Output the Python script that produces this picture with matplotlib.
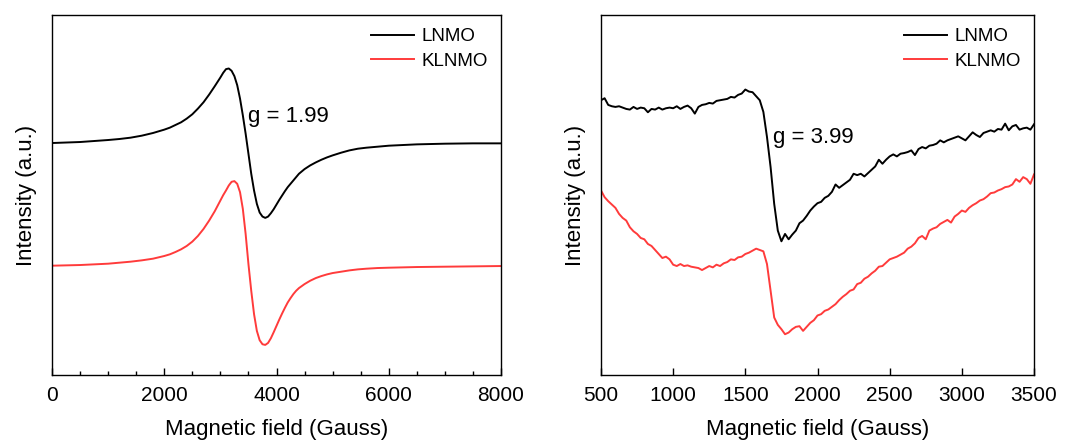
import numpy as np
import matplotlib
matplotlib.use("Agg")
import matplotlib.pyplot as plt
from matplotlib.ticker import MultipleLocator

plt.rcParams['font.family'] = ['Liberation Sans', 'DejaVu Sans']

# ---------------- left panel: wide sweep (0-8000 G) ----------------
left_field = [0, 500, 1000, 1200, 1400, 1500, 1600, 1800, 2000, 2100, 2200, 2300,
              2400, 2500, 2600, 2700, 2800, 2900, 3000, 3050, 3100, 3150, 3200,
              3250, 3300, 3350, 3400, 3450, 3500, 3550, 3600, 3650, 3700, 3750,
              3800, 3850, 3900, 3950, 4000, 4050, 4100, 4150, 4200, 4250, 4300,
              4350, 4400, 4500, 4600, 4700, 4800, 4900, 5000, 5150, 5300, 5450,
              5600, 5800, 6000, 6500, 7000, 7500, 8000]
left_lnmo = [694, 697, 703, 706, 710, 713, 716, 724, 734, 740, 748, 756,
             767, 780, 797, 816, 839, 864, 890, 904, 915, 917, 910,
             894, 867, 827, 777, 722, 662, 602, 552, 512, 486, 474,
             470, 474, 484, 496, 510, 524, 537, 550, 562, 572, 582,
             592, 602, 616, 627, 636, 644, 651, 657, 665, 672, 677,
             680, 683, 686, 690, 692, 693, 693]
left_klnmo = [327, 329, 333, 336, 339, 341, 343, 348, 356, 361, 368, 376,
              386, 399, 416, 437, 462, 490, 522, 538, 552, 567, 578,
              580, 572, 547, 497, 422, 332, 252, 182, 132, 104, 92,
              90, 96, 110, 128, 147, 166, 184, 201, 217, 230, 242,
              252, 260, 272, 282, 290, 296, 301, 305, 309, 313, 316,
              318, 320, 321, 323, 324, 325, 326]

# ---------------- right panel: low-field sweep (500-3500 G, 25 G steps) ----------------
right_field = list(range(500, 3501, 25))
right_lnmo = [822, 828, 808, 804, 802, 804, 800, 796, 794, 802,
              796, 800, 798, 786, 796, 794, 800, 794, 798, 800,
              798, 804, 796, 802, 806, 798, 782, 802, 808, 810,
              814, 812, 820, 822, 824, 826, 832, 830, 838, 842,
              854, 848, 846, 834, 822, 787, 712, 622, 512, 432,
              400, 422, 406, 420, 432, 454, 462, 476, 492, 504,
              514, 518, 530, 536, 548, 570, 560, 568, 576, 584,
              602, 598, 602, 594, 604, 614, 624, 644, 632, 644,
              654, 660, 654, 662, 664, 667, 672, 658, 676, 682,
              678, 686, 688, 692, 702, 696, 702, 706, 710, 714,
              708, 702, 714, 726, 718, 712, 724, 728, 732, 728,
              736, 734, 752, 732, 744, 748, 734, 738, 740, 734,
              750]
right_klnmo = [552, 532, 520, 510, 500, 482, 470, 462, 442, 430,
               422, 410, 406, 392, 386, 374, 362, 350, 354, 346,
               330, 326, 332, 326, 328, 324, 322, 320, 314, 320,
               326, 322, 330, 326, 334, 338, 346, 344, 352, 354,
               362, 366, 372, 378, 374, 370, 332, 252, 172, 150,
               137, 122, 127, 137, 144, 146, 132, 144, 156, 164,
               178, 182, 192, 196, 204, 212, 224, 234, 242, 252,
               256, 272, 276, 288, 294, 304, 312, 324, 326, 336,
               346, 350, 354, 360, 366, 378, 384, 394, 410, 416,
               406, 432, 438, 442, 452, 458, 464, 456, 474, 482,
               492, 488, 500, 508, 514, 522, 526, 534, 544, 546,
               552, 556, 562, 564, 570, 586, 578, 592, 586, 572,
               600]

labels = ["LNMO", "KLNMO"]
g_texts = ["g = 1.99", "g = 3.99"]

BLACK = "#000000"
RED = "#FF3B3B"

fig = plt.figure(figsize=(10.77, 4.44), dpi=100)
W, H = 1077, 444
axL = fig.add_axes([52 / W, (H - 375) / H, (501 - 52) / W, (375 - 15) / H])
axR = fig.add_axes([601 / W, (H - 375) / H, (1034 - 601) / W, (375 - 15) / H])

axL.plot(left_field, left_lnmo, color=BLACK, lw=1.4, label=labels[0])
axL.plot(left_field, left_klnmo, color=RED, lw=1.4, label=labels[1])
axR.plot(right_field, right_lnmo, color=BLACK, lw=1.4, label=labels[0])
axR.plot(right_field, right_klnmo, color=RED, lw=1.4, label=labels[1])

axL.set_xlim(0, 8000)
axR.set_xlim(500, 3500)
for ax in (axL, axR):
    ax.set_ylim(0, 1077)
    ax.set_yticks([])
    ax.set_xlabel("Magnetic field (Gauss)", fontsize=16, labelpad=10)
    ax.set_ylabel("Intensity (a.u.)", fontsize=16, labelpad=11)
    ax.tick_params(axis='x', direction='in', length=5, width=1.0, labelsize=15, pad=8)
    ax.tick_params(axis='x', which='minor', direction='in', length=3, width=1.0)
    for s in ax.spines.values():
        s.set_linewidth(1.0)
    ax.legend(loc='upper right', frameon=False, fontsize=13.5,
              handlelength=2.3, handletextpad=0.4, labelspacing=0.4,
              borderaxespad=0.3)

axL.xaxis.set_major_locator(MultipleLocator(2000))
axL.xaxis.set_minor_locator(MultipleLocator(500))
axR.xaxis.set_major_locator(MultipleLocator(500))

axL.text(3500, 1122 - 350, g_texts[0], fontsize=16, va='center', ha='left')
axR.text(1690, 1122 - 410, g_texts[1], fontsize=16, va='center', ha='left')

fig.savefig("out.png", dpi=100)
